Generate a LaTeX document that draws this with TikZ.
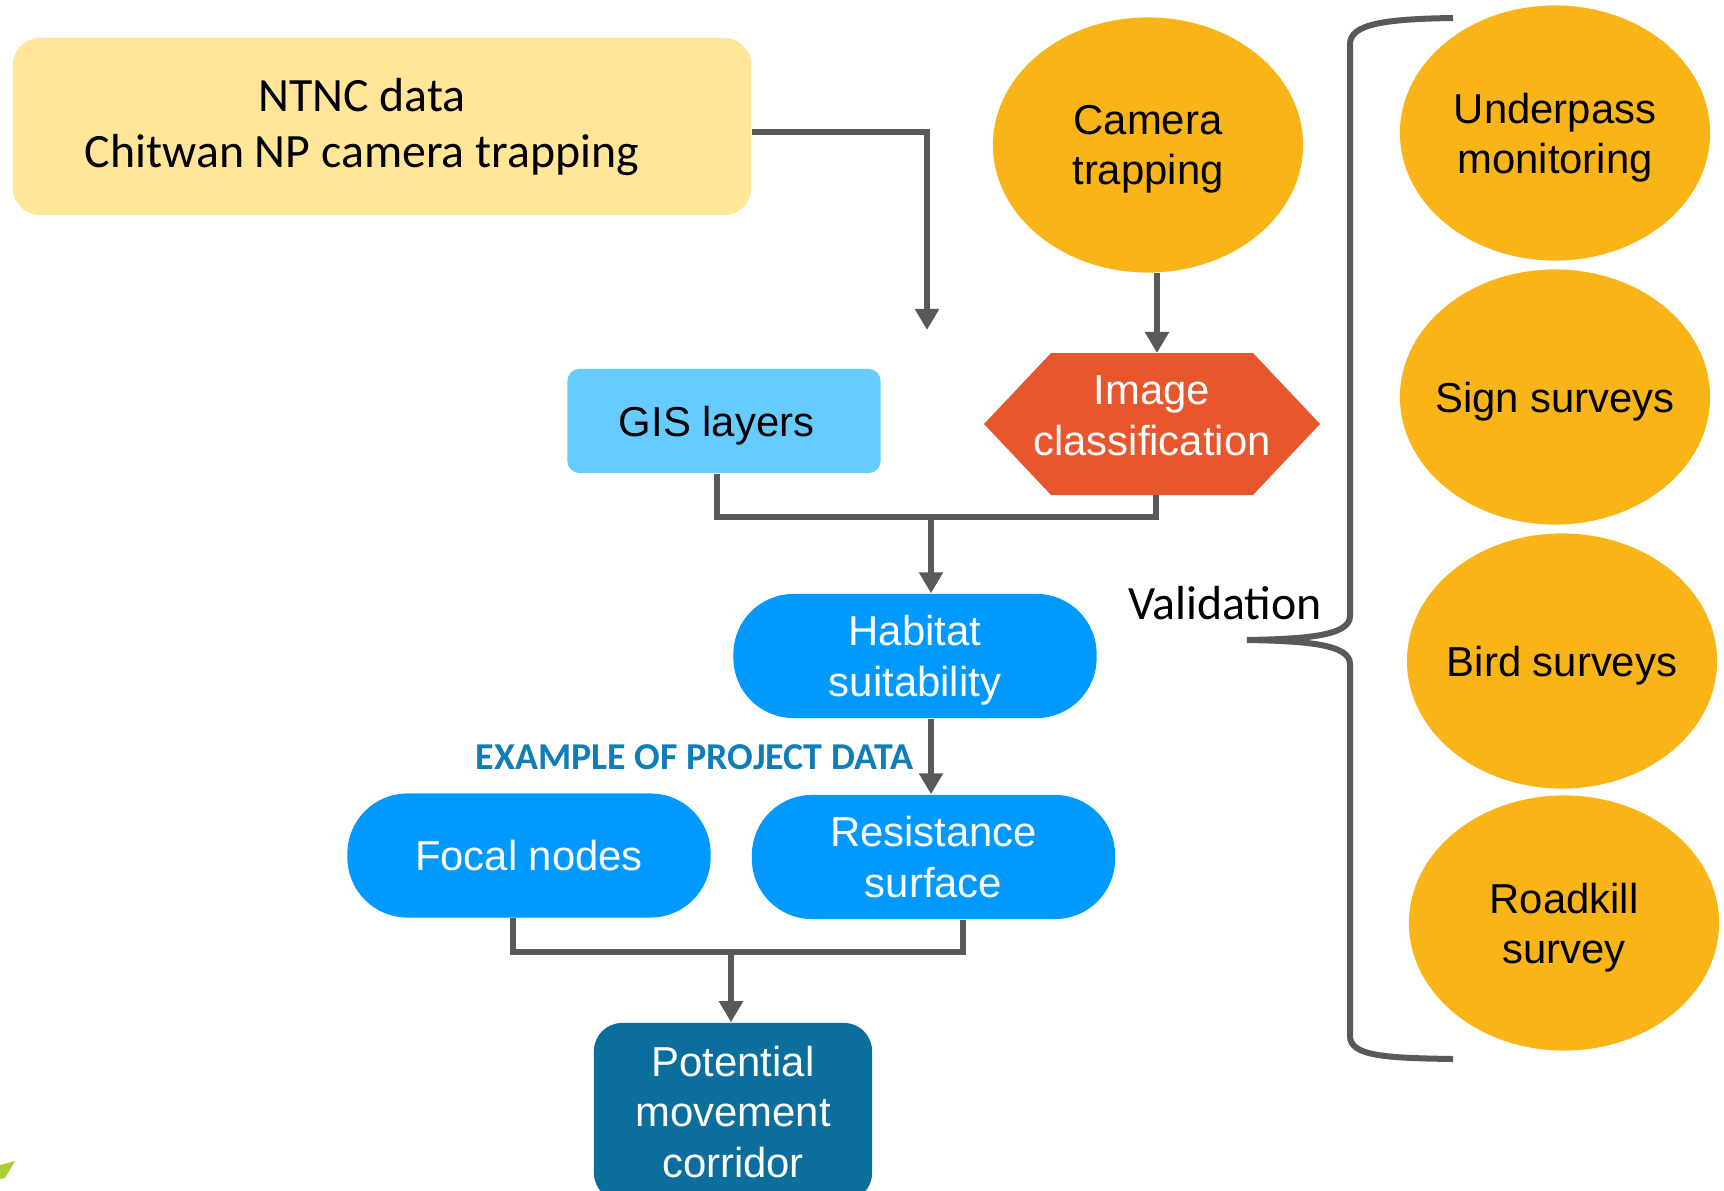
\documentclass[tikz,border=0pt]{standalone}
\usepackage{fontspec}
\setmainfont{Liberation Sans}
\newfontfamily\calibri{Carlito}
\usetikzlibrary{positioning, arrows.meta, calc, shapes.geometric}
\definecolor{giallo}{HTML}{FFE699}
\definecolor{arancio}{HTML}{F9B418}
\definecolor{rosso}{HTML}{E8562D}
\definecolor{celeste}{HTML}{66CCFF}
\definecolor{azzurro}{HTML}{0099FF}
\definecolor{petrolio}{HTML}{0B6E9D}
\definecolor{titolo}{HTML}{0F7DB8}
\definecolor{grigio}{HTML}{595959}
\definecolor{verde}{HTML}{A8CF38}

\begin{document}
\begin{tikzpicture}[x=0.01cm, y=-0.01cm,
    oval/.style={ellipse, fill=arancio, minimum width=3.1cm, minimum height=2.55cm, inner xsep=-0.5cm, inner ysep=0pt, text depth=0pt, align=center, font=\fontsize{11.9}{14.3}\selectfont},
    pill/.style={rectangle, rounded corners=0.6cm, fill=azzurro, text=white, minimum width=3.63cm, minimum height=1.24cm, inner sep=0pt, text depth=0pt, align=center, font=\fontsize{11.9}{14.5}\selectfont},
    flow/.style={-{Triangle[width=0.23cm,length=0.21cm]}, line width=0.06cm, grigio},
    link/.style={line width=0.06cm, grigio}
]
\clip (0,0) rectangle (1724,1191);

% Dati di partenza
\node[rectangle, rounded corners=0.27cm, fill=giallo, minimum width=7.38cm, minimum height=1.77cm] (ntnc) at (382,126.5) {};
\node[align=center, font=\calibri\fontsize{13.6}{16.2}\selectfont] (ntnctxt) at (362,127) {NTNC data\\Chitwan NP camera trapping};
\node[oval] (cam) at (1148,145) {Camera\\trapping};

% Esagono
\coordinate (imgc) at (1152,424);
\fill[rosso] ($(imgc)+(-168,0)$) -- ($(imgc)+(-101,-71)$) -- ($(imgc)+(101,-71)$) -- ($(imgc)+(168,0)$) -- ($(imgc)+(101,71)$) -- ($(imgc)+(-101,71)$) -- cycle;
\node[align=center, text=white, font=\fontsize{11.9}{14.5}\selectfont] (img) at ($(imgc)+(0,-8)$) {Image\\classification};
\coordinate (imgtop) at ($(imgc)+(5,-71)$);
\coordinate (imgbot) at ($(imgc)+(4,71)$);

\node[rectangle, rounded corners=0.12cm, fill=celeste, minimum width=3.13cm, minimum height=1.04cm, text depth=0pt, font=\fontsize{11.9}{14.5}\selectfont] (gis) at (724,421) {GIS layers\kern0.15cm};

% Nodi blu
\node[pill] (hab) at (915,656) {Habitat\\suitability};
\node[pill] (foc) at (529,855.5) {Focal nodes};
\node[pill] (res) at (933.5,857) {Resistance\\surface};
\node[rectangle, rounded corners=0.28cm, fill=petrolio, text=white, minimum width=2.78cm, minimum height=1.78cm, align=center, font=\fontsize{11.9}{14.4}\selectfont] (pot) at (733,1112) {Potential\\movement\\corridor};

\node[text=titolo, font=\calibri\bfseries\fontsize{10.8}{12}\selectfont] (example) at (694.5,757) {EXAMPLE OF PROJECT DATA};

% Validazione
\node[oval] (under) at (1555,133) {Underpass\\monitoring};
\node[oval] (sign) at (1555,397) {Sign surveys};
\node[oval] (bird) at (1562,661) {Bird surveys};
\node[oval] (road) at (1564,923) {Roadkill\\survey};
\node[font=\calibri\fontsize{13.6}{16.2}\selectfont] (valid) at (1225,603) {Validation};

\draw[link] (1453,18) .. controls (1385,19) and (1350,24) .. (1350,44) -- (1350,616) .. controls (1350,636) and (1305,639) .. (1247,640) .. controls (1305,641) and (1350,644) .. (1350,664) -- (1350,1036) .. controls (1350,1056) and (1385,1058) .. (1453,1059);

% Frecce
\coordinate (ntncend) at (927,330);
\draw[flow] ($(ntnc.east)+(0,5.5)$) -| (ntncend);
\draw[flow] (imgtop |- cam.south) -- (imgtop);
\coordinate (j1) at (931,517);
\draw[link] ($(gis.south)+(-7,0)$) |- (j1) -| (imgbot);
\draw[flow] (j1) -- (j1 |- hab.north);
\draw[flow] (j1 |- hab.south) -- (j1 |- res.north);
\coordinate (j2) at (731,952);
\draw[link] ($(foc.south)+(-16,0)$) |- (j2) -| ($(res.south)+(29,0)$);
\draw[flow] (j2) -- (j2 |- pot.north);

% Angolo verde
\fill[verde] (0,1165) -- (15,1161) -- (5,1178) -- (0,1179) -- cycle;

\end{tikzpicture}
\end{document}
